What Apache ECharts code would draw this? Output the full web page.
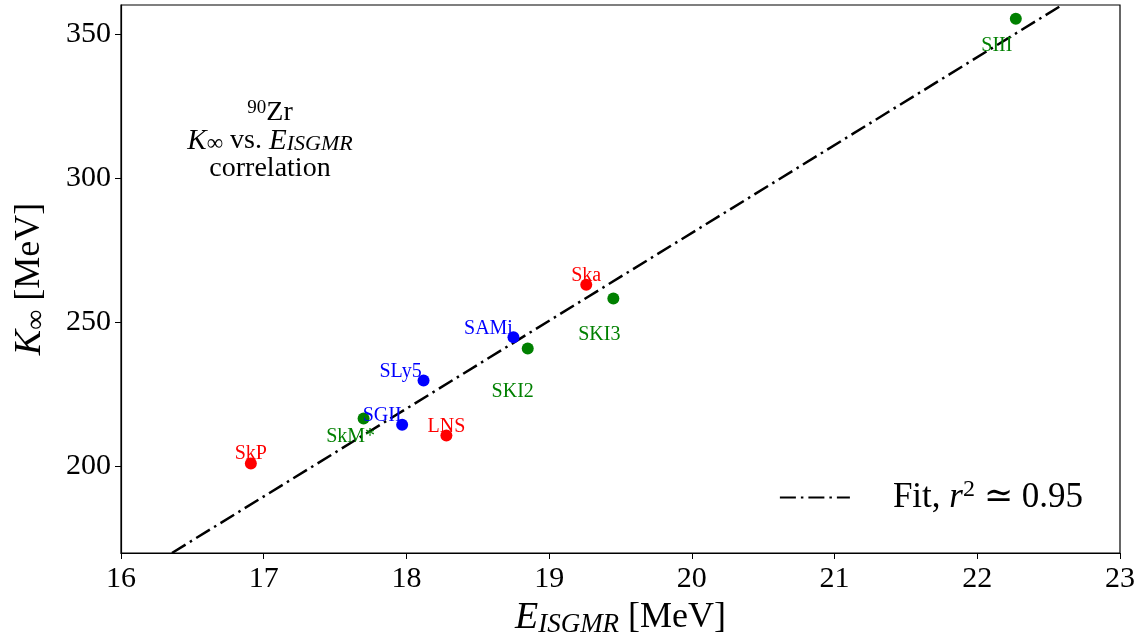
<!DOCTYPE html>
<html>
<head>
<meta charset="utf-8">
<script src="https://cdn.jsdelivr.net/npm/echarts@6/dist/echarts.min.js"></script>
<style>html,body{margin:0;padding:0;background:#fff;}#c{width:1148px;height:641px;}</style>
</head>
<body>
<div id="c"></div>
<script>
// ---- data ----
const redNames = ['SkP', 'LNS', 'Ska'];
const redX = [16.91, 18.28, 19.26];
const redY = [201, 210.7, 263];
const blueNames = ['SGII', 'SLy5', 'SAMi'];
const blueX = [17.97, 18.12, 18.75];
const blueY = [214.5, 229.8, 244.8];
const greenNames = ['SkM*', 'SKI2', 'SKI3', 'SIII'];
const greenX = [17.70, 18.85, 19.45, 22.27];
const greenY = [216.6, 240.9, 258.2, 355.2];
const fitX = [16.357, 22.594];
const fitY = [170, 360];
const xTicks = [16, 17, 18, 19, 20, 21, 22, 23];
const yTicks = [200, 250, 300, 350];

// ---- styling ----
const SERIF = '"Liberation Serif", "DejaVu Serif", serif';
const labelOffsets = {
  'SkP': [0, -10], 'SkM*': [-13, 18], 'SGII': [-20, -9], 'SLy5': [-23, -9],
  'LNS': [0, -9], 'SAMi': [-25, -9], 'SKI2': [-15, 43], 'Ska': [0, -9],
  'SKI3': [-14, 36], 'SIII': [-19, 27]
};
function pts(names, xs, ys, color) {
  return names.map((n, i) => ({
    name: n,
    value: [xs[i], ys[i]],
    label: {
      show: true, position: 'inside', offset: labelOffsets[n], formatter: n,
      color: color, fontFamily: SERIF, fontSize: 20
    }
  }));
}
function scat(names, xs, ys, color) {
  return {
    type: 'scatter', symbolSize: 12, itemStyle: { color: color, opacity: 1 },
    data: pts(names, xs, ys, color), z: 3, emphasis: { disabled: true }
  };
}

const chart = echarts.init(document.getElementById('c'), null, { renderer: 'canvas' });
chart.setOption({
  animation: false,
  backgroundColor: '#fff',
  grid: { left: 121, right: 28, top: 5, bottom: 88, outerBoundsMode: 'none', containLabel: false,
          show: true, borderColor: '#000', borderWidth: 1.2, backgroundColor: 'transparent' },
  xAxis: {
    type: 'value', min: 16, max: 23, interval: 1,
    axisLine: { onZero: false, lineStyle: { color: '#000', width: 1.2 } },
    axisTick: { show: true, length: 6, lineStyle: { color: '#000' }, customValues: xTicks },
    axisLabel: { color: '#000', fontFamily: SERIF, fontSize: 30, margin: 11, customValues: xTicks },
    splitLine: { show: false },
    name: '{i|E}{s|ISGMR}{n| [MeV]}', nameLocation: 'middle', nameGap: 43,
    nameTextStyle: {
      color: '#000', fontFamily: SERIF,
      rich: {
        i: { fontStyle: 'italic', fontSize: 38, fontFamily: SERIF, color: '#000', lineHeight: 42 },
        s: { fontStyle: 'italic', fontSize: 27, fontFamily: SERIF, color: '#000', lineHeight: 28, verticalAlign: 'bottom' },
        n: { fontSize: 36, fontFamily: SERIF, color: '#000', lineHeight: 42 }
      }
    }
  },
  yAxis: {
    type: 'value', min: 170, max: 360,
    axisLine: { onZero: false, lineStyle: { color: '#000', width: 1.2 } },
    axisTick: { show: true, length: 6, lineStyle: { color: '#000' }, customValues: yTicks },
    axisLabel: { color: '#000', fontFamily: SERIF, fontSize: 30, margin: 10, customValues: yTicks },
    splitLine: { show: false },
    name: '{i|K}{s|∞}{n| [MeV]}', nameLocation: 'middle', nameGap: 70, nameRotate: 90,
    nameTextStyle: {
      color: '#000', fontFamily: SERIF,
      rich: {
        i: { fontStyle: 'italic', fontSize: 38, fontFamily: SERIF, color: '#000', lineHeight: 42 },
        s: { fontSize: 28, fontFamily: SERIF, color: '#000', lineHeight: 28, verticalAlign: 'bottom' },
        n: { fontSize: 36, fontFamily: SERIF, color: '#000', lineHeight: 42 }
      }
    }
  },
  legend: {
    right: 60, bottom: 121, orient: 'vertical',
    itemWidth: 70, itemHeight: 14, itemGap: 10,
    data: ['Fit'],
    itemStyle: { opacity: 0, borderWidth: 0 },
    formatter: () => '{n|Fit, }{i|r}{p|2}{n| ≃ 0.95}',
    textStyle: {
      color: '#000', fontFamily: SERIF, fontSize: 35, padding: [0, 0, 0, 38],
      rich: {
        n: { fontSize: 35, fontFamily: SERIF, color: '#000', lineHeight: 40 },
        i: { fontSize: 35, fontStyle: 'italic', fontFamily: SERIF, color: '#000', lineHeight: 40 },
        p: { fontSize: 24, fontFamily: SERIF, color: '#000', lineHeight: 22, verticalAlign: 'top' }
      }
    }
  },
  graphic: [
    {
      type: 'text', x: 270, y: 99, z: 10,
      style: {
        align: 'center', verticalAlign: 'top',
        text: '{sp|90}{n|Zr}\n{i|K}{sb|∞}{n| vs. }{i|E}{sbi|ISGMR}\n{n|correlation}',
        fontFamily: SERIF, fill: '#000',
        rich: {
          n: { fontSize: 28, fontFamily: SERIF, fill: '#000', lineHeight: 28 },
          i: { fontSize: 29, fontStyle: 'italic', fontFamily: SERIF, fill: '#000', lineHeight: 28 },
          sp: { fontSize: 19, fontFamily: SERIF, fill: '#000', lineHeight: 18, verticalAlign: 'top' },
          sb: { fontSize: 23, fontFamily: SERIF, fill: '#000', lineHeight: 18, verticalAlign: 'bottom' },
          sbi: { fontSize: 22, fontStyle: 'italic', fontFamily: SERIF, fill: '#000', lineHeight: 18, verticalAlign: 'bottom' }
        }
      }
    }
  ],
  series: [
    {
      name: 'Fit', type: 'line', symbol: 'none', showSymbol: false, z: 2,
      data: fitX.map((x, i) => [x, fitY[i]]),
      lineStyle: { color: '#000', width: 2.5, type: [16, 5, 2.5, 5] },
      itemStyle: { color: '#000' },
      emphasis: { disabled: true }
    },
    scat(redNames, redX, redY, '#ff0000'),
    scat(blueNames, blueX, blueY, '#0000ff'),
    scat(greenNames, greenX, greenY, '#008000')
  ]
});
</script>
</body>
</html>
